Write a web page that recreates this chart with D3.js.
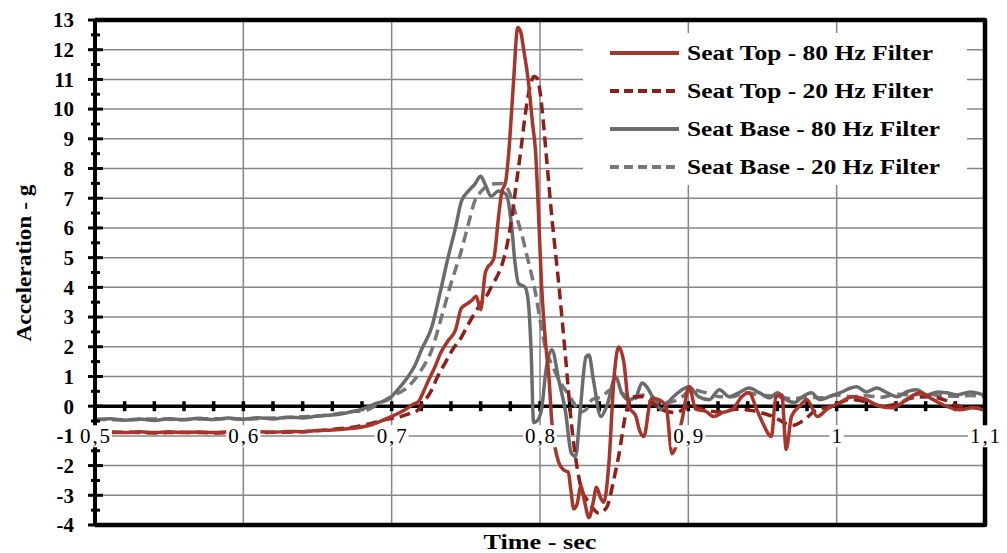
<!DOCTYPE html>
<html>
<head>
<meta charset="utf-8">
<script src="https://cdn.jsdelivr.net/npm/d3@7"></script>
<style>
  body { margin: 0; background: #fff; }
  text { font-family: "Liberation Serif", "Times New Roman", serif; }
</style>
</head>
<body>
<script>
// Seat Top - 80 Hz Filter
var topT80 = [0.500,0.510,0.520,0.530,0.540,0.550,0.560,0.570,0.580,0.590,0.600,0.610,0.620,0.630,0.640,0.650,0.660,0.670,0.680,0.688,0.695,0.702,0.709,0.714,0.718,0.722,0.725,0.729,0.733,0.738,0.743,0.747,0.751,0.754,0.757,0.760,0.763,0.765,0.767,0.769,0.772,0.774,0.777,0.779,0.782,0.785,0.787,0.789,0.792,0.795,0.797,0.799,0.801,0.804,0.806,0.808,0.8126,0.816,0.819,0.821,0.8227,0.825,0.8275,0.830,0.833,0.836,0.838,0.841,0.843,0.8465,0.8498,0.853,0.8566,0.860,0.8647,0.867,0.870,0.8748,0.877,0.880,0.885,0.889,0.8958,0.9005,0.905,0.912,0.917,0.923,0.930,0.936,0.941,0.946,0.950,0.956,0.959,0.963,0.966,0.9695,0.975,0.980,0.987,0.993,1.002,1.011,1.020,1.029,1.038,1.047,1.056,1.065,1.074,1.083,1.092,1.099];
var topG80 = [-0.88,-0.86,-0.89,-0.86,-0.89,-0.86,-0.89,-0.87,-0.89,-0.86,-0.88,-0.86,-0.88,-0.85,-0.86,-0.82,-0.80,-0.76,-0.70,-0.60,-0.45,-0.30,-0.12,0.05,0.15,0.55,0.89,1.30,1.79,2.20,2.56,3.30,3.45,3.56,3.70,3.25,4.46,4.70,4.80,5.00,6.35,7.15,7.60,8.58,10.8,12.75,12.6,12.0,11.0,9.5,8.58,6.5,4.13,2.0,1.0,-0.55,-1.89,-2.15,-2.22,-2.9,-3.46,-3.3,-2.69,-3.2,-3.75,-3.2,-2.73,-3.1,-3.23,-1.89,0.89,1.99,1.45,-0.02,-0.35,-0.8,-1.02,0.22,0.25,0.22,0.0,-1.6,-0.45,0.65,-0.1,-0.18,-0.35,-0.22,-0.1,0.32,0.45,-0.1,-0.55,-1.02,0.32,0.38,-1.45,-0.35,0.0,0.22,-0.35,-0.12,0.12,0.32,0.22,0.0,-0.05,0.22,0.45,0.22,0.0,-0.12,-0.05,-0.12];

// Seat Top - 20 Hz Filter
var topT20 = [0.500,0.520,0.540,0.560,0.580,0.600,0.620,0.640,0.660,0.675,0.686,0.696,0.706,0.712,0.718,0.722,0.727,0.731,0.736,0.741,0.747,0.751,0.756,0.760,0.765,0.768,0.772,0.777,0.781,0.784,0.787,0.790,0.793,0.796,0.798,0.800,0.802,0.804,0.808,0.8126,0.8173,0.821,0.8248,0.828,0.833,0.8397,0.845,0.8498,0.853,0.858,0.862,0.8688,0.8755,0.882,0.8917,0.9005,0.9093,0.921,0.932,0.943,0.957,0.970,0.977,0.9865,0.997,1.009,1.020,1.031,1.043,1.051,1.063,1.072,1.083,1.097];
var topG20 = [-0.90,-0.88,-0.90,-0.88,-0.90,-0.89,-0.88,-0.86,-0.78,-0.70,-0.58,-0.45,-0.35,-0.25,-0.12,0.15,0.55,1.0,1.45,1.9,2.32,2.7,3.13,3.45,3.80,4.1,4.46,5.24,6.35,7.47,8.58,9.8,10.7,11.1,11.05,10.6,9.7,8.58,6.35,4.13,1.6,-0.5,-2.0,-2.79,-3.23,-3.6,-3.4,-2.46,-1.69,-0.22,0.32,0.32,0.12,-0.12,-0.22,0.0,-0.1,-0.2,-0.1,-0.15,-0.35,-0.65,-0.5,-0.12,0.0,0.22,0.15,0.0,0.12,0.28,0.32,0.22,0.0,-0.05];

// Seat Base - 80 Hz Filter
var baseT80 = [0.50,0.51,0.52,0.53,0.54,0.55,0.56,0.57,0.58,0.59,0.60,0.61,0.62,0.63,0.64,0.65,0.66,0.67,0.68,0.684,0.69,0.6976,0.704,0.711,0.716,0.720,0.727,0.733,0.738,0.743,0.747,0.7517,0.756,0.760,0.763,0.767,0.772,0.777,0.781,0.783,0.7855,0.790,0.792,0.794,0.7957,0.798,0.801,0.804,0.808,0.8126,0.8173,0.821,0.824,0.827,0.831,0.833,0.836,0.841,0.845,0.851,0.855,0.860,0.8647,0.8688,0.872,0.8769,0.882,0.888,0.8938,0.9005,0.907,0.914,0.921,0.9276,0.934,0.941,0.948,0.955,0.960,0.966,0.9716,0.977,0.983,0.9885,0.995,1.002,1.0135,1.020,1.027,1.034,1.041,1.047,1.054,1.061,1.068,1.074,1.081,1.090,1.099];
var baseG80 = [-0.46,-0.42,-0.47,-0.43,-0.48,-0.42,-0.46,-0.41,-0.45,-0.40,-0.44,-0.39,-0.43,-0.37,-0.40,-0.33,-0.30,-0.22,-0.10,-0.02,0.10,0.22,0.55,0.99,1.4,1.89,2.66,3.9,5.0,6.0,6.9,7.24,7.47,7.74,7.47,7.07,7.24,7.14,6.0,4.9,4.13,4.0,3.56,1.89,-0.55,-0.5,-0.12,1.2,1.9,0.89,-0.22,-1.56,-1.69,-0.22,1.66,1.72,0.89,-0.35,0.0,0.99,0.45,0.22,0.32,0.78,0.65,0.22,-0.12,0.22,0.48,0.65,0.32,0.22,0.55,0.32,0.45,0.61,0.45,0.28,0.45,0.22,0.12,0.32,0.45,0.22,0.32,0.45,0.65,0.48,0.61,0.45,0.32,0.48,0.55,0.38,0.48,0.45,0.38,0.48,0.38];

// Seat Base - 20 Hz Filter
var baseT20 = [0.50,0.52,0.54,0.56,0.58,0.60,0.62,0.64,0.66,0.67,0.684,0.69,0.6996,0.711,0.720,0.727,0.733,0.740,0.747,0.7517,0.756,0.7605,0.767,0.774,0.779,0.783,0.7876,0.792,0.797,0.8004,0.804,0.808,0.8126,0.819,0.824,0.826,0.831,0.835,0.8417,0.848,0.855,0.862,0.8688,0.8755,0.882,0.889,0.8958,0.9026,0.912,0.921,0.930,0.939,0.948,0.960,0.970,0.980,0.990,1.000,1.010,1.020,1.030,1.040,1.050,1.060,1.070,1.080,1.090,1.100];
var baseG20 = [-0.44,-0.46,-0.43,-0.45,-0.42,-0.43,-0.40,-0.36,-0.28,-0.20,-0.12,0.05,0.32,0.65,1.22,1.89,2.89,4.13,5.24,6.13,6.9,7.24,7.47,7.5,7.24,6.57,5.8,4.9,3.8,2.79,1.89,1.4,0.9,0.4,0.0,-0.22,-0.12,0.22,0.32,0.55,0.45,0.22,0.38,0.32,0.12,0.15,0.32,0.55,0.45,0.32,0.32,0.45,0.38,0.32,0.25,0.30,0.28,0.38,0.32,0.35,0.30,0.40,0.38,0.42,0.35,0.33,0.36,0.32];

var seriesNames = ["Seat Top - 80 Hz Filter", "Seat Top - 20 Hz Filter", "Seat Base - 80 Hz Filter", "Seat Base - 20 Hz Filter"];
var xTicks = [0.5, 0.6, 0.7, 0.8, 0.9, 1.0, 1.1];
var yTicks = d3.range(-4, 14);

var width = 1007, height = 553;
var svg = d3.select("body").append("svg").attr("width", width).attr("height", height);

var x = d3.scaleLinear().domain([0.5, 1.1]).range([95, 985]);
var y = d3.scaleLinear().domain([-4, 13]).range([525, 20]);

var fmt = d3.formatLocale({decimal: ",", thousands: ".", grouping: [3], currency: ["", ""]}).format("~g");

// grid
svg.selectAll(".hgrid").data(yTicks.filter(function(d){ return d != 0 && d != 13 && d != -4; }))
  .enter().append("line")
  .attr("x1", x(0.5)).attr("x2", x(1.1))
  .attr("y1", function(d){ return y(d); }).attr("y2", function(d){ return y(d); })
  .attr("stroke", "#868686").attr("stroke-width", 1.5);
svg.selectAll(".vgrid").data(xTicks.slice(1, -1))
  .enter().append("line")
  .attr("x1", function(d){ return x(d); }).attr("x2", function(d){ return x(d); })
  .attr("y1", y(13)).attr("y2", y(-4))
  .attr("stroke", "#868686").attr("stroke-width", 1.5);

// x axis at zero
svg.append("line").attr("x1", x(0.5)).attr("x2", x(1.1)).attr("y1", y(0)).attr("y2", y(0))
  .attr("stroke", "#000").attr("stroke-width", 3.5);
svg.selectAll(".xtick").data(d3.range(25, 55).map(function(i){ return i * 0.02; }))
  .enter().append("line")
  .attr("x1", function(d){ return x(d); }).attr("x2", function(d){ return x(d); })
  .attr("y1", y(0) - 5).attr("y2", y(0) + 5)
  .attr("stroke", "#000").attr("stroke-width", 3.5);

// series
var line = d3.line()
  .x(function(d){ return x(d[0]); })
  .y(function(d){ return y(d[1]); })
  .curve(d3.curveMonotoneX);

var series = [
  {t: baseT20, g: baseG20, color: "#777777", dash: "11,6"},
  {t: baseT80, g: baseG80, color: "#6b6b6b", dash: null},
  {t: topT20, g: topG20, color: "#8e1f18", dash: "11,6"},
  {t: topT80, g: topG80, color: "#a8352b", dash: null}
];
series.forEach(function(s){
  svg.append("path")
    .datum(d3.zip(s.t, s.g))
    .attr("d", line)
    .attr("fill", "none")
    .attr("stroke", s.color)
    .attr("stroke-width", 3.5)
    .attr("stroke-dasharray", s.dash)
    .attr("stroke-linejoin", "round");
});

// y axis
svg.append("line").attr("x1", x(0.5)).attr("x2", x(0.5)).attr("y1", y(13)).attr("y2", y(-4))
  .attr("stroke", "#000").attr("stroke-width", 4);
svg.selectAll(".ymaj").data(yTicks).enter().append("line")
  .attr("x1", x(0.5) - 7).attr("x2", x(0.5) + 8)
  .attr("y1", function(d){ return y(d); }).attr("y2", function(d){ return y(d); })
  .attr("stroke", "#000").attr("stroke-width", 3);
svg.selectAll(".ymin").data(yTicks.slice(0, -1).map(function(d){ return d + 0.5; })).enter().append("line")
  .attr("x1", x(0.5) - 4).attr("x2", x(0.5) + 5)
  .attr("y1", function(d){ return y(d); }).attr("y2", function(d){ return y(d); })
  .attr("stroke", "#000").attr("stroke-width", 3);

// frame
svg.append("path")
  .attr("d", "M" + x(0.5) + "," + y(13) + "H" + x(1.1) + "V" + y(-4) + "H" + x(0.5))
  .attr("fill", "none").attr("stroke", "#000").attr("stroke-width", 4.5)
  .attr("stroke-linejoin", "round");

// y tick labels
svg.selectAll(".ylab").data(yTicks).enter().append("text")
  .attr("x", 74).attr("y", function(d){ return y(d); })
  .attr("dy", "0.35em")
  .attr("text-anchor", "end")
  .style("font-size", "21px").style("font-weight", "bold")
  .text(function(d){ return d < 0 ? "-" + Math.abs(d) : d; });

// x tick labels with white background
var xl = svg.selectAll(".xlab").data(xTicks).enter().append("g");
xl.append("rect").attr("fill", "#fff");
xl.append("text")
  .attr("x", function(d){ return x(d); }).attr("y", y(-1))
  .attr("dy", "0.35em")
  .attr("text-anchor", "middle")
  .style("font-size", "21px")
  .attr("textLength", function(d){ return fmt(d).length > 1 ? 30 : 10; })
  .attr("lengthAdjust", "spacing")
  .text(function(d){ return fmt(d); });
xl.each(function(){
  var g = d3.select(this);
  var b = g.select("text").node().getBBox();
  g.select("rect").attr("x", b.x - 2).attr("y", b.y + 1).attr("width", b.width + 4).attr("height", b.height - 2);
});

// legend
svg.append("rect").attr("x", 583).attr("y", 33).attr("width", 384).attr("height", 152).attr("fill", "#fff");
var legendStyle = [
  {color: "#a8352b", dash: null, len: 246},
  {color: "#8e1f18", dash: "9,5", len: 246},
  {color: "#6b6b6b", dash: null, len: 253},
  {color: "#777777", dash: "9,5", len: 253}
];
seriesNames.forEach(function(name, i){
  var ly = 53 + i * 38;
  svg.append("line").attr("x1", 610).attr("x2", 679).attr("y1", ly).attr("y2", ly)
    .attr("stroke", legendStyle[i].color).attr("stroke-width", 4)
    .attr("stroke-dasharray", legendStyle[i].dash);
  svg.append("text").attr("x", 687).attr("y", ly + 7)
    .style("font-size", "21px").style("font-weight", "bold")
    .attr("textLength", legendStyle[i].len).attr("lengthAdjust", "spacingAndGlyphs")
    .text(name);
});

// axis titles
svg.append("text")
  .attr("transform", "translate(31,263) rotate(-90)")
  .attr("text-anchor", "middle")
  .style("font-size", "22px").style("font-weight", "bold")
  .attr("textLength", 157).attr("lengthAdjust", "spacingAndGlyphs")
  .text("Acceleration - g");
svg.append("text")
  .attr("x", 540).attr("y", 549)
  .attr("text-anchor", "middle")
  .style("font-size", "22px").style("font-weight", "bold")
  .attr("textLength", 113).attr("lengthAdjust", "spacingAndGlyphs")
  .text("Time - sec");
</script>
</body>
</html>
